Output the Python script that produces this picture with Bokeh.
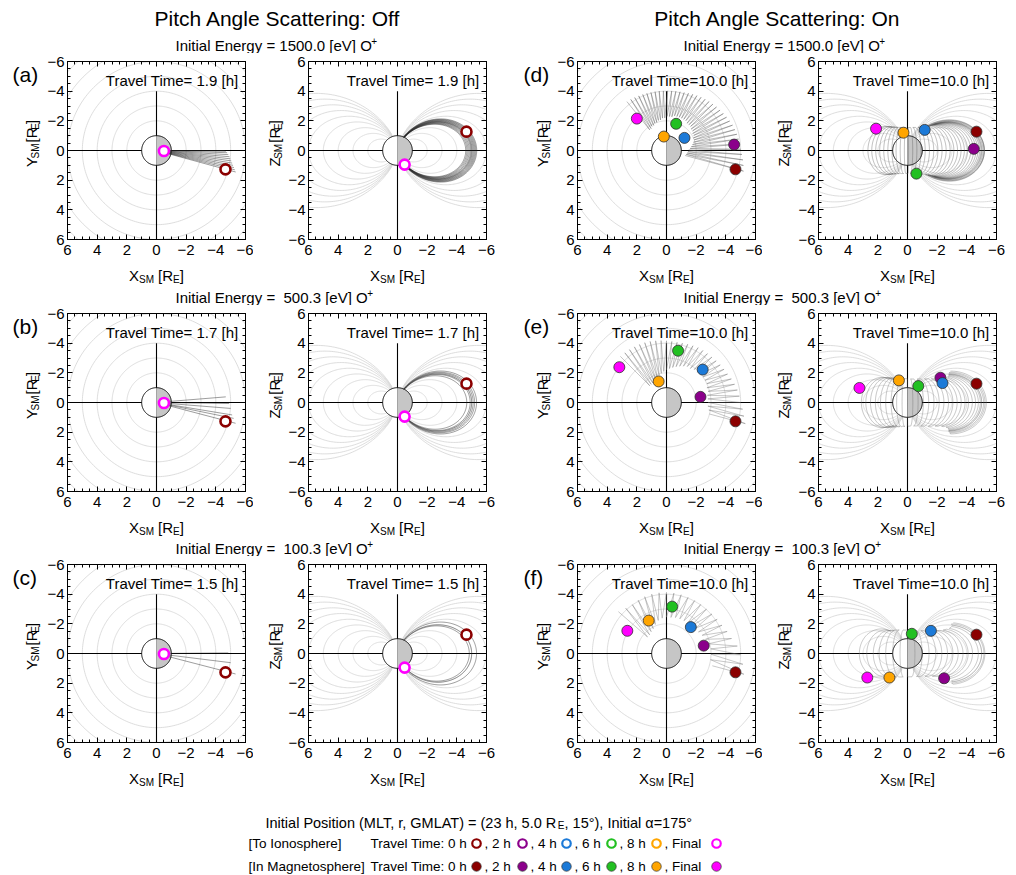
import numpy as np
from bokeh.plotting import figure
from bokeh.models import Range1d, FixedTicker, LinearAxis, Label
from bokeh.layouts import column, row
from bokeh.embed import file_html
from bokeh.resources import INLINE
from bokeh.core.properties import value

FONT = "Liberation Sans"

# ---------------- data ----------------
titles = ["Pitch Angle Scattering: Off", "Pitch Angle Scattering: On"]
letters_off = ["(a)", "(b)", "(c)"]
letters_on = ["(d)", "(e)", "(f)"]
energy_text = ["1500.0", "\u00a0500.3", "\u00a0100.3"]
travel_off = [" 1.9", " 1.7", " 1.5"]
travel_on = ["10.0", "10.0", "10.0"]
axis_ticks = [-6, -4, -2, 0, 2, 4, 6]

time_names = ["0 h", "2 h", "4 h", "6 h", "8 h", "Final"]
time_colors = ["#8b0000", "#8b008b", "#1c7ad8", "#22c022", "#ffa500", "#ff00ff"]

# background L-shells (equatorial circles / dipole field lines)
xy_shells = [2, 3, 4, 5, 6, 7, 8]
xz_shells = [2, 3, 4, 5, 6, 7, 8, 9, 10]

# pitch angle scattering off: start (0 h) and final (ionosphere) positions
off_start_x = [-4.65, -4.65, -4.65]
off_start_y = [1.27, 1.27, 1.27]
off_start_z = [1.27, 1.27, 1.27]
off_final_x = [-0.50, -0.50, -0.50]
off_final_y = [0.03, 0.03, 0.03]
off_final_xz_x = [-0.48, -0.48, -0.48]
off_final_z = [-0.95, -0.95, -0.95]

# equatorial turning points of the trajectory bundles (off)
a_eq_x = [-4.60, -4.68, -4.76, -4.84, -4.92, -4.98, -5.04, -5.10, -5.16, -5.22, -5.28, -5.34]
a_eq_y = [0.00, 0.05, 0.15, 0.28, 0.42, 0.56, 0.70, 0.85, 1.00, 1.15, 1.30, 1.45]
b_eq_x = [-4.67, -4.90, -5.00, -5.10, -5.20, -5.33]
b_eq_y = [-0.38, 0.07, 0.40, 0.84, 1.07, 1.40]
c_eq_x = [-4.84, -5.00, -5.33]
c_eq_y = [-0.04, 0.62, 1.38]

# pitch angle scattering on: bounce samples (angle from midnight toward dawn [deg],
# equatorial radius, innermost projected radius)
d_theta = [-15, -11, -7, -3, 1, 5, 9, 13, 17, 21, 25, 29, 33, 37, 41, 45, 49, 53, 57,
           61, 65, 69, 73, 77, 81, 85, 89, 93, 97, 101, 105, 109, 113, 117, 121, 125, 129]
d_rout = [5.37, 5.28, 5.19, 5.09, 5.01, 4.96, 4.92, 4.87, 4.82, 4.77, 4.70, 4.63, 4.57,
          4.52, 4.47, 4.42, 4.38, 4.33, 4.28, 4.23, 4.18, 4.13, 4.08, 4.06, 4.04, 4.03,
          4.02, 4.02, 4.03, 4.04, 4.05, 4.07, 4.10, 4.13, 4.16, 4.20, 4.24]
d_rin = [1.30, 1.35, 1.40, 1.45, 1.50, 1.60, 1.70, 1.80, 1.90, 2.00, 2.00, 2.10, 2.10,
         2.20, 2.20, 2.30, 2.30, 2.30, 2.40, 2.40, 2.40, 2.40, 2.40, 2.40, 2.30, 2.30,
         2.30, 2.20, 2.20, 2.10, 2.10, 2.00, 2.00, 1.90, 1.90, 1.80, 1.80]
e_theta = [-15, -10, -5, 0, 5, 10, 15, 20, 25, 30, 35, 40, 45, 50, 55, 60, 65, 70, 75,
           80, 85, 90, 95, 100, 105, 110, 115, 120, 125, 130, 135]
e_rout = [5.50, 5.30, 5.15, 5.00, 4.93, 4.85, 4.75, 4.65, 4.54, 4.48, 4.42, 4.37, 4.33,
          4.30, 4.28, 4.27, 4.22, 4.18, 4.14, 4.12, 4.13, 4.16, 4.19, 4.22, 4.26, 4.29,
          4.31, 4.33, 4.35, 4.37, 4.40]
e_rin = [3.00, 2.90, 2.80, 2.80, 2.80, 2.80, 2.90, 2.90, 3.00, 3.00, 3.00, 3.00, 2.90,
         2.90, 2.80, 2.80, 2.70, 2.60, 2.50, 2.40, 2.30, 2.20, 2.10, 2.00, 1.90, 1.80,
         1.70, 1.60, 1.60, 1.60, 1.60]
f_theta = [-15, -8, -1, 6, 13, 20, 27, 34, 41, 48, 55, 62, 69, 76, 83, 90, 97, 104,
           111, 118, 125, 132, 139]
f_rout = [5.40, 5.20, 5.00, 4.80, 4.50, 4.35, 4.20, 4.12, 4.06, 4.03, 4.03, 4.04, 4.05,
          4.08, 4.10, 4.12, 4.12, 4.12, 4.10, 4.06, 4.02, 4.10, 4.30]
f_rin = [3.20, 3.00, 3.00, 3.00, 2.90, 2.80, 2.70, 2.60, 2.60, 2.50, 2.50, 2.50, 2.50,
         2.50, 2.45, 2.45, 2.40, 2.30, 2.10, 1.90, 1.80, 1.70, 1.70]

# positions at 0, 2, 4, 6, 8 h and final (magnetosphere)
d_xy_x = [-4.65, -4.56, -1.21, -0.65, 0.18, 2.00]
d_xy_y = [1.27, -0.40, -0.85, -1.80, -0.94, -2.15]
d_xz_x = [-4.65, -4.47, -1.16, -0.60, 0.27, 2.12]
d_xz_z = [1.27, 0.11, 1.39, -1.56, 1.20, 1.47]
e_xy_x = [-4.65, -2.29, -2.44, -0.78, 0.53, 3.18]
e_xy_y = [1.27, -0.38, -2.22, -3.49, -1.42, -2.38]
e_xz_x = [-4.65, -2.22, -2.36, -0.73, 0.58, 3.24]
e_xz_z = [1.27, 1.67, 1.31, 1.11, 1.49, 0.98]
f_xy_x = [-4.65, -2.51, -1.64, -0.38, 1.20, 2.64]
f_xy_y = [1.27, -0.53, -1.78, -3.16, -2.22, -1.53]
f_xz_x = [-4.65, -2.47, -1.58, -0.29, 1.22, 2.71]
f_xz_z = [1.27, -1.67, 1.53, 1.33, -1.62, -1.62]

# ---------------- helpers ----------------
WID = {' ': 278, '\u00a0': 278, '(': 333, ')': 333, '+': 584, ',': 278, '-': 333,
       '.': 278, ':': 278, '=': 584, '[': 278, ']': 278, '\u00b0': 400, '\u03b1': 578,
       'A': 667, 'E': 667, 'G': 778, 'I': 278, 'L': 556, 'M': 833, 'P': 667, 'R': 722,
       'S': 667, 'T': 611, 'X': 667, 'Y': 667, 'Z': 611, 'O': 778, 'V': 667, 'F': 611,
       'a': 556, 'c': 500, 'e': 556, 'f': 278, 'g': 556, 'h': 556, 'i': 222, 'l': 222,
       'm': 833, 'n': 556, 'o': 556, 'p': 556, 'r': 333, 's': 500, 't': 278, 'v': 500,
       'y': 500}


def tw(s, size):
    return sum(WID.get(c, 556) for c in s) * size / 1000.0


FW = 178
FH = 178
TOPB = 8
BOTB = 24
LEFTB = 24
PH = TOPB + FH + BOTB
MINOR = [v / 2.0 for v in range(-12, 13)]
GRID_C = "#d4d4d4"


def txt(p, x, y, s, size, align="left", baseline="alphabetic", angle=0.0):
    p.text([x], [y], [s], text_font=value(FONT), text_font_size=value(f"{size}px"),
           text_align=align, text_baseline=baseline, angle=angle, text_color="black")


def style_axis(ax, labels, standoff=3):
    ax.ticker = FixedTicker(ticks=axis_ticks, minor_ticks=MINOR)
    ax.axis_line_color = "black"
    ax.axis_line_width = 1
    ax.major_tick_line_color = "black"
    ax.minor_tick_line_color = "black"
    ax.major_tick_in = 5
    ax.major_tick_out = 0
    ax.minor_tick_in = 3
    ax.minor_tick_out = 0
    ax.major_label_text_font = FONT
    ax.major_label_standoff = standoff
    if labels:
        ax.major_label_text_font_size = "15px"
        ax.major_label_text_color = "black"
    else:
        ax.major_label_text_font_size = "1px"
        ax.major_label_text_color = None


def circle_pts(r):
    t = np.linspace(0, 2 * np.pi, 241)
    return r * np.cos(t), r * np.sin(t)


def dipole(L, x_eq):
    lf = np.arccos(np.sqrt(1.0 / L))
    lam = np.linspace(-lf, lf, 181)
    return x_eq * np.cos(lam) ** 3, L * np.cos(lam) ** 2 * np.sin(lam)


def base_panel(kind, rb):
    yr = Range1d(6, -6) if kind == "xy" else Range1d(-6, 6)
    p = figure(x_range=Range1d(6, -6), y_range=yr, frame_width=FW, frame_height=FH,
               min_border_left=LEFTB, min_border_right=rb, min_border_top=TOPB,
               min_border_bottom=BOTB, toolbar_location=None, output_backend="svg",
               background_fill_color="white", border_fill_color="white")
    p.outline_line_color = "black"
    p.xgrid.visible = False
    p.ygrid.visible = False
    style_axis(p.xaxis[0], True, standoff=5)
    style_axis(p.yaxis[0], True, standoff=3)
    top = LinearAxis()
    style_axis(top, False)
    right = LinearAxis()
    style_axis(right, False)
    p.add_layout(top, "above")
    p.add_layout(right, "right")
    xs, ys = [], []
    if kind == "xy":
        for r in xy_shells:
            cx, cy = circle_pts(r)
            xs.append(cx)
            ys.append(cy)
    else:
        for L in xz_shells:
            for s in (1, -1):
                dx, dz = dipole(L, s * L)
                xs.append(dx)
                ys.append(dz)
    p.multi_line(xs, ys, line_color=GRID_C, line_width=0.8)
    p.line([6, -6], [0, 0], line_color="black", line_width=1.1)
    if kind == "xy":
        p.line([0, 0], [-4, 6], line_color="black", line_width=1.1)
    else:
        p.line([0, 0], [4, -6], line_color="black", line_width=1.1)
    t = np.linspace(-np.pi / 2, np.pi / 2, 91)
    p.patch(np.cos(t), np.sin(t), fill_color="white", line_color=None)
    t2 = np.linspace(np.pi / 2, 3 * np.pi / 2, 91)
    p.patch(np.cos(t2), np.sin(t2), fill_color="#c6c6c6", line_color=None)
    ex, ey = circle_pts(1.0)
    p.line(ex, ey, line_color="black", line_width=1)
    return p


def off_traj(p, kind, eqx, eqy):
    xs, ys = [], []
    for x0, y0 in zip(eqx, eqy):
        L = np.hypot(x0, y0)
        if kind == "xy":
            f = L ** -1.5
            xs.append([x0 * f, x0])
            ys.append([y0 * f, y0])
        else:
            dx, dz = dipole(L, x0)
            xs.append(dx)
            ys.append(dz)
    p.multi_line(xs, ys, line_color="#202020", line_alpha=0.55, line_width=0.8)


def on_traj(p, kind, theta, rout, rin, color, alpha):
    px, py = [], []
    for k, (th, ro, ri) in enumerate(zip(theta, rout, rin)):
        a = np.radians(th)
        x0 = -ro * np.cos(a)
        y0 = -ro * np.sin(a)
        if kind == "xy":
            f = ri / ro
            px += [x0 * f, x0]
            py += [y0 * f, y0]
        else:
            lm = np.arccos((ri / ro) ** (1.0 / 3.0))
            lam = np.linspace(lm, -lm, 121) if k % 2 == 0 else np.linspace(-lm, lm, 121)
            px += list(x0 * np.cos(lam) ** 3)
            py += list(ro * np.cos(lam) ** 2 * np.sin(lam))
    p.line(px, py, line_color=color, line_alpha=alpha, line_width=0.7)


def hollow(p, x, y, color):
    p.scatter(x, y, size=10, marker="circle", fill_color="white", line_color=color,
              line_width=2.6)


def filled(p, xs, ys):
    p.scatter(xs, ys, size=11, marker="circle", fill_color=time_colors,
              line_color="#303030", line_width=0.8)


def travel(p, s):
    p.add_layout(Label(x=FW - 7, y=FH - 19, x_units="screen", y_units="screen",
                       text=f"Travel Time={s} [h]", text_font=FONT,
                       text_font_size="15px", text_align="right",
                       text_baseline="middle", text_color="black"))


def strip(w, h):
    p = figure(width=w, height=h, x_range=Range1d(0, w), y_range=Range1d(h, 0),
               x_axis_type=None, y_axis_type=None, toolbar_location=None,
               output_backend="svg", min_border=0, outline_line_color=None)
    p.grid.visible = False
    return p


# axis title pieces: (text, font size, gap before, subscript)
def title_parts(var):
    return [(var, 15, 0.0, False), ("SM", 10, 0.0, True), ("[R", 15, 4.0, False),
            ("E", 10, 0.0, True), ("]", 15, 0.0, False)]


def ytitle_strip(w, letter_txt, letter_x, center_x, var):
    s = strip(w, PH)
    if letter_txt:
        txt(s, letter_x, TOPB + 7, letter_txt, 21, baseline="middle")
    parts = title_parts(var)
    total = sum(tw(t, sz) + g for t, sz, g, _ in parts)
    y = TOPB + FH / 2.0 + total / 2.0
    xb = center_x + 5.0
    for t, sz, g, sub in parts:
        y -= g
        txt(s, xb + (3.5 if sub else 0.0), y, t, sz, angle=np.pi / 2)
        y -= tw(t, sz)
    return s


def xtitles(s, yb):
    for cx in (156, 397, 666, 907):
        parts = title_parts("X")
        total = sum(tw(t, sz) + g for t, sz, g, _ in parts)
        x = cx - total / 2.0
        for t, sz, g, sub in parts:
            x += g
            txt(s, x, yb + (3.5 if sub else 0.0), t, sz)
            x += tw(t, sz)


def energy(p, y, etxt):
    for x0 in (175, 683):
        main = f"Initial Energy = {etxt} [eV] O"
        txt(p, x0, y, main, 15, baseline="middle")
        txt(p, x0 + tw(main, 15) - 0.5, y - 5, "+", 10, baseline="middle")


# ---------------- panels ----------------
off_eq_x = [a_eq_x, b_eq_x, c_eq_x]
off_eq_y = [a_eq_y, b_eq_y, c_eq_y]
on_sets = [
    (d_theta, d_rout, d_rin, d_xy_x, d_xy_y, d_xz_x, d_xz_z, "#555555", 0.55),
    (e_theta, e_rout, e_rin, e_xy_x, e_xy_y, e_xz_x, e_xz_z, "#6a6a6a", 0.55),
    (f_theta, f_rout, f_rin, f_xy_x, f_xy_y, f_xz_x, f_xz_z, "#7a7a7a", 0.6),
]

rows = []
for i in range(3):
    p1 = base_panel("xy", 8)
    off_traj(p1, "xy", off_eq_x[i], off_eq_y[i])
    hollow(p1, [off_start_x[i]], [off_start_y[i]], time_colors[0])
    hollow(p1, [off_final_x[i]], [off_final_y[i]], time_colors[5])
    travel(p1, travel_off[i])

    p2 = base_panel("xz", 35)
    off_traj(p2, "xz", off_eq_x[i], off_eq_y[i])
    hollow(p2, [off_start_x[i]], [off_start_z[i]], time_colors[0])
    hollow(p2, [off_final_xz_x[i]], [off_final_z[i]], time_colors[5])
    travel(p2, travel_off[i])

    th, ro, ri, xyx, xyy, xzx, xzz, col, al = on_sets[i]
    p3 = base_panel("xy", 7)
    on_traj(p3, "xy", th, ro, ri, col, al)
    filled(p3, xyx, xyy)
    travel(p3, travel_on[i])

    p4 = base_panel("xz", 20)
    on_traj(p4, "xz", th, ro, ri, col, al)
    filled(p4, xzx, xzz)
    travel(p4, travel_on[i])

    y1 = ytitle_strip(43, letters_off[i], 12, 26, "Y")
    y2 = ytitle_strip(31, None, 0, 16, "Z")
    y3 = ytitle_strip(32, letters_on[i], 2, 16, "Y")
    y4 = ytitle_strip(32, None, 0, 16, "Z")
    rows.append(row(y1, p1, y2, p2, y3, p3, y4, p4))

header = strip(1016, 53)
txt(header, 277, 18, titles[0], 21, align="center", baseline="middle")
txt(header, 777, 18, titles[1], 21, align="center", baseline="middle")
energy(header, 45, energy_text[0])

s2 = strip(1016, 42)
xtitles(s2, 12)
energy(s2, 34, energy_text[1])
s3 = strip(1016, 41)
xtitles(s3, 12)
energy(s3, 33, energy_text[2])

foot = strip(1016, 109)
xtitles(foot, 12)
part1 = "Initial Position (MLT, r, GMLAT) = (23 h, 5.0 R"
part2 = ", 15\u00b0), Initial \u03b1=175\u00b0"
fs = 14.5
x0 = 265
yl = 56
txt(foot, x0, yl, part1, fs)
xe = x0 + tw(part1, fs) - 3
txt(foot, xe, yl + 3, "E", 10)
txt(foot, xe + tw("E", 10), yl, part2, fs)

leg_rows = ["[To Ionosphere]", "[In Magnetosphere]"]
leg_y = [77, 100]
mk_x = [476, 522, 566, 611, 656, 716]
sep_x = [484, 530, 574, 619, 664]
for r, (name, yy) in enumerate(zip(leg_rows, leg_y)):
    txt(foot, 248, yy, name, 13.5, baseline="middle")
    txt(foot, 370, yy, "Travel Time: " + time_names[0], 13.5, baseline="middle")
    foot.text(sep_x, [yy] * 5, [", " + n for n in time_names[1:]], text_font=value(FONT),
              text_font_size=value("13.5px"), text_align="left", text_baseline="middle",
              text_color="black")
    if r == 0:
        foot.scatter(mk_x, [yy] * 6, size=8.5, marker="circle", fill_color="white",
                     line_color=time_colors, line_width=2.2)
    else:
        foot.scatter(mk_x, [yy] * 6, size=9.5, marker="circle", fill_color=time_colors,
                     line_color="#303030", line_width=0.7)

layout = column(header, rows[0], s2, rows[1], s3, rows[2], foot)
open("out.html", "w").write(file_html(layout, INLINE))
